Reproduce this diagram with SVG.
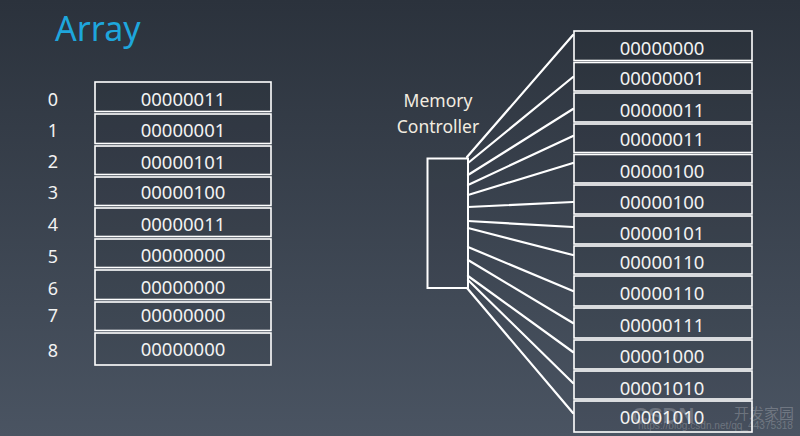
<svg xmlns="http://www.w3.org/2000/svg" width="800" height="436" viewBox="0 0 800 436">
<defs>
<linearGradient id="bg" x1="0" y1="0" x2="0" y2="1">
<stop offset="0" stop-color="#2b323c"/>
<stop offset="1" stop-color="#4a5462"/>
</linearGradient>
<style>
.cell{fill:#000;fill-opacity:0.05;stroke:#ffffff;stroke-width:1.6}
.v{font-family:"Noto Sans","Open Sans","DejaVu Sans",sans-serif;font-size:18.5px;fill:#f2f2f2;text-anchor:middle;dominant-baseline:central}
.idx{font-family:"Noto Sans","Open Sans","DejaVu Sans",sans-serif;font-size:18px;fill:#f2f2f2;text-anchor:middle;dominant-baseline:central}
.lbl{font-family:"Noto Sans","Open Sans","DejaVu Sans",sans-serif;font-size:17.5px;fill:#f2ece0;text-anchor:middle;dominant-baseline:central}
.wire{stroke:#ffffff;stroke-width:2.2;fill:none;stroke-linecap:round}
.wm{font-family:"Liberation Sans","Noto Sans CJK SC",sans-serif;fill:#ffffff;fill-opacity:0.22}
</style>
</defs>
<rect x="0" y="0" width="800" height="436" fill="url(#bg)"/>
<text x="55" y="41" font-family="'Noto Sans','Open Sans',sans-serif" font-size="34" fill="#1ea6dc">Array</text>

<g id="array">
<g id="a0"><text class="idx" x="53" y="99">0</text><rect class="cell" x="95" y="82" width="176" height="29.5"/><text class="v" x="183" y="98">00000011</text></g>
<g id="a1"><text class="idx" x="53" y="130">1</text><rect class="cell" x="95" y="114" width="176" height="29.5"/><text class="v" x="183" y="129">00000001</text></g>
<g id="a2"><text class="idx" x="53" y="161">2</text><rect class="cell" x="95" y="146" width="176" height="28.5"/><text class="v" x="183" y="161">00000101</text></g>
<g id="a3"><text class="idx" x="53" y="192">3</text><rect class="cell" x="95" y="177" width="176" height="28.5"/><text class="v" x="183" y="191">00000100</text></g>
<g id="a4"><text class="idx" x="53" y="224">4</text><rect class="cell" x="95" y="208" width="176" height="28.5"/><text class="v" x="183" y="223">00000011</text></g>
<g id="a5"><text class="idx" x="53" y="256">5</text><rect class="cell" x="95" y="239" width="176" height="28.5"/><text class="v" x="183" y="254">00000000</text></g>
<g id="a6"><text class="idx" x="53" y="288">6</text><rect class="cell" x="95" y="270" width="176" height="29.5"/><text class="v" x="183" y="286">00000000</text></g>
<g id="a7"><text class="idx" x="53" y="315">7</text><rect class="cell" x="95" y="302" width="176" height="28.5"/><text class="v" x="183" y="314">00000000</text></g>
<g id="a8"><text class="idx" x="53" y="350">8</text><rect class="cell" x="95" y="333" width="176" height="32"/><text class="v" x="183" y="348">00000000</text></g>
</g>

<g id="controller">
<text class="lbl" x="438" y="100">Memory</text>
<text class="lbl" x="438" y="126">Controller</text>
<rect x="427.5" y="158.5" width="40.5" height="129.5" fill="#000" fill-opacity="0.03" stroke="#ffffff" stroke-width="2"/>
</g>

<g id="connectors">
<line class="wire" x1="467" y1="157" x2="573" y2="35"/>
<line class="wire" x1="468" y1="163" x2="573" y2="77"/>
<line class="wire" x1="468" y1="175" x2="573" y2="109"/>
<line class="wire" x1="468" y1="185" x2="573" y2="136"/>
<line class="wire" x1="468" y1="195" x2="573" y2="163"/>
<line class="wire" x1="468" y1="207" x2="573" y2="202"/>
<line class="wire" x1="468" y1="221" x2="573" y2="227"/>
<line class="wire" x1="468" y1="228" x2="573" y2="255"/>
<line class="wire" x1="468" y1="247" x2="573" y2="291"/>
<line class="wire" x1="468" y1="260" x2="573" y2="323"/>
<line class="wire" x1="468" y1="276" x2="573" y2="352"/>
<line class="wire" x1="468" y1="280" x2="573" y2="383"/>
<line class="wire" x1="467" y1="288" x2="573" y2="413"/>
</g>

<g id="memory">
<g id="m0"><rect class="cell" x="574" y="31" width="178" height="29.5"/><text class="v" x="662" y="47">00000000</text></g>
<g id="m1"><rect class="cell" x="574" y="62.5" width="178" height="28.5"/><text class="v" x="662" y="77">00000001</text></g>
<g id="m2"><rect class="cell" x="574" y="93" width="178" height="29"/><text class="v" x="662" y="109">00000011</text></g>
<g id="m3"><rect class="cell" x="574" y="124" width="178" height="28.5"/><text class="v" x="662" y="138">00000011</text></g>
<g id="m4"><rect class="cell" x="574" y="154.5" width="178" height="28.5"/><text class="v" x="662" y="170">00000100</text></g>
<g id="m5"><rect class="cell" x="574" y="185" width="178" height="29"/><text class="v" x="662" y="201">00000100</text></g>
<g id="m6"><rect class="cell" x="574" y="216" width="178" height="28"/><text class="v" x="662" y="232">00000101</text></g>
<g id="m7"><rect class="cell" x="574" y="246" width="178" height="28"/><text class="v" x="662" y="261">00000110</text></g>
<g id="m8"><rect class="cell" x="574" y="276" width="178" height="30"/><text class="v" x="662" y="292">00000110</text></g>
<g id="m9"><rect class="cell" x="574" y="308" width="178" height="30"/><text class="v" x="662" y="324">00000111</text></g>
<g id="m10"><rect class="cell" x="574" y="340" width="178" height="29"/><text class="v" x="662" y="355">00001000</text></g>
<g id="m11"><rect class="cell" x="574" y="371" width="178" height="28"/><text class="v" x="662" y="387">00001010</text></g>
<g id="m12"><rect class="cell" x="574" y="401" width="178" height="31"/><text class="v" x="662" y="416">00001010</text></g>
</g>

<g id="watermark">
<text class="wm" x="632" y="423" font-size="22" font-weight="bold" fill-opacity="0.12">CSDN</text>
<text class="wm" x="734" y="419" font-size="15">开发家园</text>
<text class="wm" x="638" y="429" font-size="10.5" textLength="155" lengthAdjust="spacingAndGlyphs">https://blog.csdn.net/qq_44375318</text>
</g>
</svg>
